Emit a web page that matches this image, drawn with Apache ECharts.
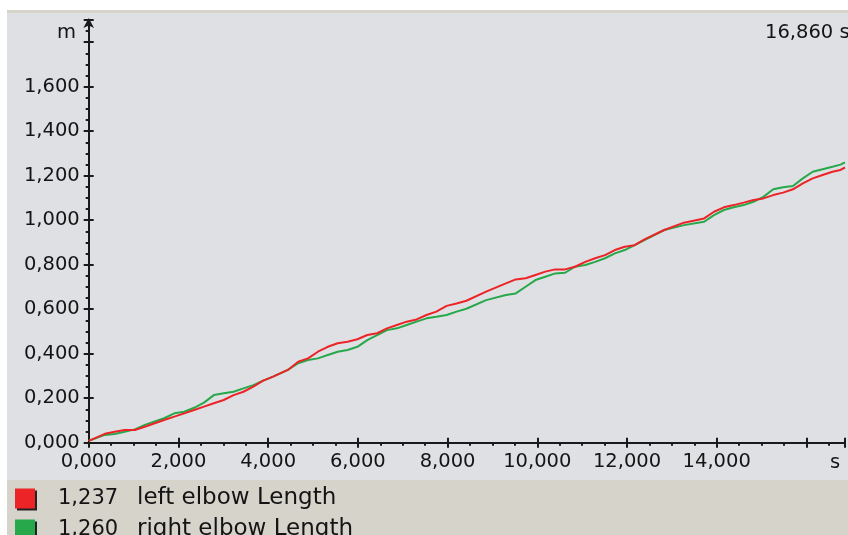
<!DOCTYPE html>
<html>
<head>
<meta charset="utf-8">
<script src="https://cdn.jsdelivr.net/npm/echarts@6/dist/echarts.min.js"></script>
<style>
html,body{margin:0;padding:0;background:#fff;}
#chart{width:848px;height:535px;}
</style>
</head>
<body>
<div id="chart"></div>
<script>
// time in seconds
var times = [0, 0.36, 0.58, 0.80, 1.03, 1.25, 1.68, 1.91, 2.13, 2.35,
  2.57, 2.79, 3.01, 3.23, 3.45, 3.67, 3.89, 4.11, 4.44, 4.67,
  4.89, 5.11, 5.33, 5.55, 5.77, 5.99, 6.21, 6.43, 6.65, 6.87,
  7.09, 7.31, 7.53, 7.75, 7.98, 8.20, 8.42, 8.86, 9.30, 9.52,
  9.74, 9.96, 10.18, 10.40, 10.62, 10.84, 11.07, 11.29, 11.51, 11.73,
  11.95, 12.17, 12.39, 12.83, 13.27, 13.72, 13.94, 14.16, 14.38, 14.60,
  14.82, 15.04, 15.26, 15.48, 15.70, 15.92, 16.14, 16.36, 16.58, 16.76,
  16.86];
// length in metres
var leftElbow = [0.008, 0.040, 0.049, 0.057, 0.057, 0.072, 0.102, 0.117, 0.132, 0.147,
  0.162, 0.177, 0.192, 0.214, 0.229, 0.252, 0.279, 0.297, 0.327, 0.364,
  0.379, 0.409, 0.431, 0.447, 0.454, 0.465, 0.484, 0.492, 0.514, 0.529,
  0.544, 0.554, 0.574, 0.589, 0.615, 0.626, 0.638, 0.679, 0.716, 0.734,
  0.739, 0.754, 0.769, 0.779, 0.779, 0.791, 0.813, 0.829, 0.843, 0.866,
  0.881, 0.888, 0.914, 0.956, 0.989, 1.008, 1.038, 1.058, 1.068, 1.079,
  1.091, 1.098, 1.113, 1.124, 1.139, 1.166, 1.188, 1.203, 1.218, 1.226,
  1.237];
var rightElbow = [0.008, 0.035, 0.039, 0.049, 0.060, 0.080, 0.110, 0.132, 0.139, 0.157,
  0.180, 0.214, 0.222, 0.229, 0.244, 0.259, 0.279, 0.297, 0.327, 0.357,
  0.372, 0.379, 0.394, 0.409, 0.417, 0.431, 0.461, 0.484, 0.506, 0.514,
  0.529, 0.544, 0.559, 0.566, 0.574, 0.589, 0.602, 0.641, 0.664, 0.671,
  0.701, 0.731, 0.746, 0.761, 0.764, 0.791, 0.799, 0.813, 0.829, 0.851,
  0.866, 0.888, 0.911, 0.956, 0.978, 0.993, 1.023, 1.046, 1.058, 1.068,
  1.083, 1.105, 1.139, 1.148, 1.154, 1.188, 1.218, 1.229, 1.240, 1.250,
  1.260];
var seriesNames = ['left elbow Length', 'right elbow Length'];
var seriesColors = ['#ec2327', '#27a84a'];
var xUnit = 's', yUnit = 'm';
var xMax = 16.86, yMax = 1.9;

function fmt(v) { return v.toFixed(3).replace('.', ','); }

var FONT = 'DejaVu Sans';
var FS = 19.5;
var TXT = '#141414';

function pairs(ys) { return times.map(function (t, i) { return [t, ys[i]]; }); }
var allSeries = [leftElbow, rightElbow];
var lastVals = {};
seriesNames.forEach(function (n, i) { lastVals[n] = fmt(allSeries[i][allSeries[i].length - 1]); });

var chart = echarts.init(document.getElementById('chart'), null, {renderer: 'canvas'});

var axisLineStyle = {color: '#1a1a1a', width: 2};

var option = {
  animation: false,
  backgroundColor: '#ffffff',
  textStyle: {fontFamily: FONT},
  graphic: [
    {type: 'rect', z: -10, shape: {x: 7, y: 10, width: 841, height: 4}, style: {fill: '#d6d3cb'}},
    {type: 'rect', z: -10, shape: {x: 7, y: 13, width: 841, height: 467}, style: {fill: '#dfe0e4'}},
    {type: 'rect', z: -10, shape: {x: 7, y: 480, width: 841, height: 55}, style: {fill: '#d6d3cb'}},
    {type: 'text', z: 10, x: 76, y: 33, style: {text: yUnit, fill: TXT, font: FS + 'px "' + FONT + '"', textAlign: 'right', textVerticalAlign: 'middle'}},
    {type: 'text', z: 10, x: 765, y: 33, style: {text: fmt(xMax) + ' ' + xUnit, fill: TXT, font: FS + 'px "' + FONT + '"', textAlign: 'left', textVerticalAlign: 'middle'}},
    {type: 'text', z: 10, x: 835, y: 463, style: {text: xUnit, fill: TXT, font: FS + 'px "' + FONT + '"', textAlign: 'center', textVerticalAlign: 'middle'}}
  ],
  grid: {left: 88.7, top: 20, width: 763.3, height: 422.7, containLabel: false},
  legend: {
    orient: 'vertical', left: 15, top: 487, height: 80, padding: 0,
    itemWidth: 20, itemHeight: 20, itemGap: 8,
    icon: 'rect', selectedMode: false,
    data: seriesNames,
    itemStyle: {shadowColor: '#222', shadowOffsetX: 2, shadowOffsetY: 2, shadowBlur: 0},
    formatter: function (name) { return '{v|' + lastVals[name] + '}{n|' + name + '}'; },
    textStyle: {
      color: TXT, fontFamily: FONT, fontSize: 21, lineHeight: 21,
      rich: {
        v: {width: 79, fontSize: 21, fontFamily: FONT, color: TXT, padding: [0, 0, 0, 18], lineHeight: 21},
        n: {fontSize: 23, fontFamily: FONT, color: TXT, lineHeight: 21}
      }
    }
  },
  xAxis: [{
    type: 'value', min: 0, max: xMax, interval: 2, gridIndex: 0,
    axisLine: {show: true, onZero: false, lineStyle: axisLineStyle},
    axisTick: {show: true, inside: false, length: 5, lineStyle: {color: '#1a1a1a', width: 2}},
    minorTick: {show: true, splitNumber: 4, length: 3, lineStyle: {color: '#1a1a1a', width: 2}},
    splitLine: {show: false},
    axisLabel: {
      show: true, margin: 9, color: TXT, fontFamily: FONT, fontSize: FS,
      formatter: function (v) { return v > 15.9 ? '' : fmt(v); }
    }
  }, {
    type: 'value', min: 0, max: xMax, interval: 2, gridIndex: 0, position: 'bottom',
    axisLine: {show: false, onZero: false},
    axisTick: {show: true, inside: true, length: 5, lineStyle: {color: '#1a1a1a', width: 2}},
    splitLine: {show: false}, axisLabel: {show: false}
  }],
  yAxis: [{
    type: 'value', min: 0, max: yMax, interval: 0.2, gridIndex: 0,
    axisLine: {show: true, onZero: false, lineStyle: axisLineStyle, symbol: ['none', 'arrow'], symbolSize: [8, 10], symbolOffset: [0, 2]},
    axisTick: {show: true, inside: false, length: 5, lineStyle: {color: '#1a1a1a', width: 2}},
    minorTick: {show: true, splitNumber: 4, length: 3, lineStyle: {color: '#1a1a1a', width: 2}},
    splitLine: {show: false},
    axisLabel: {
      show: true, margin: 9, color: TXT, fontFamily: FONT, fontSize: FS,
      formatter: function (v) { return v > 1.7 ? '' : fmt(v); }
    }
  }, {
    type: 'value', min: 0, max: yMax, interval: 0.2, gridIndex: 0, position: 'left',
    axisLine: {show: false, onZero: false},
    axisTick: {show: true, inside: true, length: 5, lineStyle: {color: '#1a1a1a', width: 2}},
    splitLine: {show: false}, axisLabel: {show: false}
  }],
  series: seriesNames.map(function (n, i) {
    return {
      name: n, type: 'line', xAxisIndex: 0, yAxisIndex: 0,
      data: pairs(allSeries[i]), showSymbol: false, symbol: 'none',
      color: seriesColors[i],
      lineStyle: {color: seriesColors[i], width: 2},
      itemStyle: {color: seriesColors[i]},
      z: 3 - i
    };
  })
};
chart.setOption(option);
</script>
</body>
</html>
